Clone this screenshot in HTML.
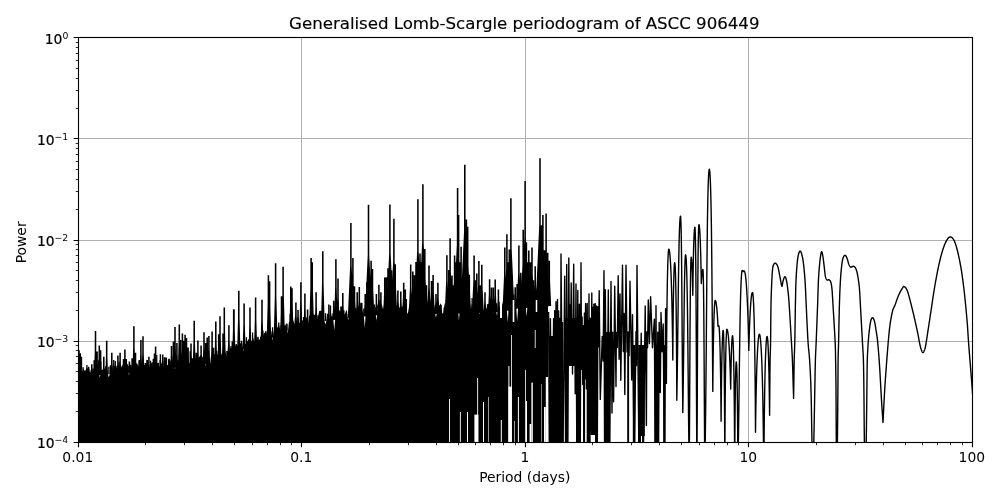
<!DOCTYPE html>
<html lang="en"><head><meta charset="utf-8"><title>Generalised Lomb-Scargle periodogram of ASCC 906449</title>
<style>html,body{margin:0;padding:0;background:#fff;overflow:hidden}svg{display:block;will-change:transform}</style></head>
<body>
<svg width="1000" height="500" viewBox="0 0 1000 500">
<rect width="1000" height="500" fill="#fff"/>
<rect x="301.0" y="37.5" width="1" height="405.0" fill="#b0b0b0"/>
<rect x="525.0" y="37.5" width="1" height="405.0" fill="#b0b0b0"/>
<rect x="748.0" y="37.5" width="1" height="405.0" fill="#b0b0b0"/>
<rect x="78.5" y="341.0" width="894.0" height="1" fill="#b0b0b0"/>
<rect x="78.5" y="240.0" width="894.0" height="1" fill="#b0b0b0"/>
<rect x="78.5" y="138.0" width="894.0" height="1" fill="#b0b0b0"/>
<clipPath id="ax"><rect x="78.5" y="37.5" width="894.0" height="405.0"/></clipPath>
<g clip-path="url(#ax)">
<path d="M78.50 442.50 L78.50 370.70 L79.82 368.76 L80.91 368.51 L81.74 371.03 L82.62 370.84 L83.51 369.31 L85.07 371.58 L86.65 367.65 L87.69 368.19 L88.73 372.75 L90.00 371.34 L91.24 373.37 L92.58 369.50 L93.85 369.51 L95.28 371.04 L96.54 369.65 L97.93 367.80 L98.82 368.59 L99.74 377.97 L101.16 369.42 L102.21 370.20 L103.47 368.43 L105.03 368.44 L105.87 369.97 L107.47 370.69 L108.58 377.31 L109.51 375.22 L110.42 366.45 L111.91 365.17 L113.15 370.70 L114.64 366.35 L115.73 370.51 L116.65 365.48 L117.64 367.57 L118.65 364.13 L119.74 367.98 L121.10 367.53 L122.44 364.20 L123.86 369.83 L124.97 366.42 L126.28 363.96 L127.25 364.59 L128.09 363.39 L128.97 376.12 L130.26 364.27 L131.34 365.70 L132.82 369.99 L134.01 363.55 L135.08 364.72 L136.01 362.96 L137.23 363.73 L138.05 366.34 L139.55 367.41 L140.64 363.58 L141.87 367.70 L142.84 367.80 L144.33 367.57 L145.72 363.32 L146.80 368.47 L147.81 366.31 L148.97 367.86 L150.53 363.65 L151.51 362.34 L152.81 367.09 L154.00 365.20 L154.86 365.14 L156.29 365.58 L157.23 365.73 L158.67 366.81 L159.79 366.49 L160.73 360.63 L162.25 365.18 L163.71 366.20 L164.80 363.03 L165.61 365.88 L166.83 365.46 L168.33 364.51 L169.33 360.64 L170.60 360.26 L171.50 364.72 L172.67 362.32 L173.80 364.54 L175.03 369.30 L175.98 357.93 L176.91 361.12 L178.16 359.97 L179.40 363.05 L180.65 359.17 L182.07 360.85 L183.48 363.54 L184.77 360.56 L186.12 360.05 L187.30 363.36 L188.80 363.21 L190.05 363.10 L190.96 357.26 L191.82 358.00 L193.16 361.67 L194.08 361.10 L194.99 362.18 L195.97 362.57 L197.16 362.71 L198.09 358.71 L199.16 356.95 L200.54 355.55 L201.69 355.36 L202.99 358.61 L204.58 360.29 L205.46 366.16 L206.48 355.37 L208.01 359.95 L208.93 360.51 L210.29 363.61 L211.43 354.18 L212.73 359.07 L214.22 353.69 L215.38 355.41 L216.92 354.67 L218.14 354.27 L219.07 352.80 L220.12 354.42 L221.16 355.62 L222.23 352.07 L223.05 356.94 L224.00 354.98 L224.88 357.25 L226.08 356.46 L227.28 354.45 L228.36 354.58 L229.67 350.51 L230.51 347.90 L231.90 347.64 L232.77 351.03 L234.11 346.02 L235.14 346.42 L236.30 344.24 L237.88 345.68 L239.45 343.47 L240.25 343.70 L241.45 342.02 L242.26 342.18 L243.37 351.28 L244.36 343.70 L245.76 343.72 L247.26 341.33 L248.85 339.10 L250.17 337.90 L251.68 341.46 L253.13 337.55 L254.33 342.00 L255.80 339.74 L257.14 340.04 L257.97 335.83 L258.85 340.44 L260.15 338.52 L261.34 333.75 L262.74 336.65 L264.07 332.93 L265.07 332.49 L266.46 332.71 L268.04 333.94 L269.22 334.68 L270.51 333.74 L271.43 330.56 L272.47 340.84 L273.49 332.46 L274.83 329.12 L276.00 329.76 L277.52 327.14 L279.07 325.09 L280.52 331.02 L281.54 325.20 L282.50 327.32 L283.72 329.31 L285.18 325.47 L286.54 322.85 L287.73 333.72 L288.89 322.17 L289.97 321.73 L290.77 324.37 L291.67 325.15 L293.19 319.94 L294.30 324.44 L295.39 320.24 L296.23 317.79 L297.26 323.44 L298.27 320.28 L299.37 323.19 L300.82 321.29 L302.37 320.02 L303.21 322.06 L304.61 320.74 L305.45 323.97 L306.63 316.76 L308.02 324.09 L309.34 315.73 L310.46 313.92 L311.43 322.60 L312.40 322.42 L313.56 313.01 L314.43 315.27 L315.43 314.08 L316.94 319.70 L318.07 316.78 L319.14 311.03 L320.71 311.50 L322.02 320.10 L323.03 312.54 L324.19 320.79 L325.69 324.42 L327.20 314.53 L328.00 313.45 L329.46 318.83 L330.46 309.75 L331.68 316.47 L333.06 315.89 L334.22 330.41 L335.21 318.89 L336.25 309.25 L337.56 315.94 L338.42 313.74 L339.53 309.99 L340.34 310.83 L341.90 314.75 L343.08 309.68 L344.65 315.12 L345.47 312.55 L346.61 309.51 L348.15 320.33 L349.28 314.28 L350.72 314.78 L351.69 317.43 L353.14 308.38 L354.55 308.97 L355.75 307.53 L356.88 313.12 L357.80 309.75 L359.38 306.57 L360.22 309.51 L361.73 313.44 L363.28 308.46 L364.83 327.96 L365.93 308.74 L366.86 304.20 L367.94 315.53 L369.52 306.41 L370.97 313.65 L371.81 309.39 L373.35 305.88 L374.87 303.78 L376.32 320.83 L377.17 314.24 L378.56 313.85 L379.58 314.47 L380.59 311.48 L381.61 302.83 L383.14 310.25 L383.96 305.37 L385.53 313.87 L386.53 307.48 L388.07 304.38 L389.46 311.92 L390.75 305.93 L391.84 311.39 L392.80 311.03 L393.65 302.41 L394.71 313.76 L396.30 305.18 L397.18 307.98 L398.33 304.81 L399.63 310.09 L401.11 309.97 L402.58 305.53 L403.68 310.86 L404.68 304.94 L406.18 308.94 L407.30 313.91 L408.29 311.70 L409.88 303.23 L411.33 312.09 L412.17 305.52 L413.12 313.68 L414.66 306.47 L415.82 305.12 L417.38 303.27 L418.67 304.61 L419.59 304.45 L420.87 309.82 L421.68 305.93 L422.62 305.75 L424.06 308.58 L424.94 306.74 L426.25 303.09 L427.61 306.92 L428.65 313.44 L429.91 306.29 L431.40 313.96 L432.36 310.74 L433.16 312.82 L434.62 306.87 L435.79 317.47 L437.10 312.92 L438.40 306.45 L439.31 305.40 L440.85 303.28 L442.30 313.53 L443.20 313.21 L444.39 302.49 L445.50 312.67 L446.96 303.69 L447.93 306.59 L449.40 303.88 L450.52 307.86 L451.42 304.58 L452.93 302.06 L454.34 301.98 L455.23 308.69 L456.53 305.12 L457.80 306.52 L458.96 320.82 L460.15 304.15 L461.57 306.78 L462.75 302.53 L463.90 302.30 L465.10 301.65 L465.97 309.94 L467.18 301.75 L468.28 312.47 L469.77 312.96 L471.22 303.28 L472.41 312.40 L473.35 310.35 L474.20 305.07 L475.12 311.59 L476.58 302.50 L478.11 303.23 L479.32 314.34 L480.25 311.90 L481.76 302.63 L482.66 306.95 L483.74 311.02 L485.01 311.09 L486.60 308.00 L488.04 303.58 L489.30 304.68 L490.46 302.44 L491.29 310.13 L492.61 312.06 L493.94 312.29 L494.86 307.56 L496.07 310.88 L497.05 315.96 L498.13 301.34 L499.11 307.03 L500.07 307.47 L500.98 311.04 L501.90 300.77 L503.40 308.71 L504.41 299.26 L505.66 303.07 L506.82 309.88 L507.81 322.59 L508.94 301.06 L510.36 298.08 L511.91 299.32 L513.20 303.44 L514.65 299.17 L515.69 297.44 L517.12 321.61 L518.51 301.88 L519.68 298.78 L520.66 296.42 L522.06 304.19 L523.43 298.95 L524.58 305.13 L525.59 303.30 L526.57 316.70 L527.56 304.39 L528.95 299.28 L530.01 298.15 L531.32 303.51 L532.90 300.71 L534.26 305.27 L535.64 301.73 L536.61 302.29 L538.14 305.51 L539.68 298.73 L540.50 295.04 L541.81 302.81 L542.66 301.47 L544.12 304.11 L544.97 304.63 L546.53 295.39 L547.42 294.45 L548.00 300.00 L548.00 442.50Z" fill="#000"/>
<path d="M78.22 350.30L78.22 362.70L77.84 377.86L80.16 377.86L79.78 362.70L79.78 350.30ZM79.42 353.30L79.42 364.28L79.08 377.70L81.32 377.70L80.98 364.28L80.98 353.30ZM80.62 356.70L80.62 366.08L80.34 377.54L82.46 377.54L82.18 366.08L82.18 356.70ZM87.82 366.80L87.82 371.19L87.70 376.55L89.50 376.55L89.38 371.19L89.38 366.80ZM91.02 364.30L91.02 369.62L90.87 376.12L92.73 376.12L92.58 369.62L92.58 364.30ZM93.42 360.30L93.42 367.27L93.22 375.79L95.18 375.79L94.98 367.27L94.98 360.30ZM94.72 331.10L94.72 351.13L94.08 375.61L96.92 375.61L96.28 351.13L96.28 331.10ZM96.32 351.40L96.32 362.20L95.99 375.40L98.21 375.40L97.88 362.20L97.88 351.40ZM98.52 345.50L98.52 358.82L98.11 375.10L100.49 375.10L100.08 358.82L100.08 345.50ZM99.82 350.30L99.82 361.39L99.48 374.95L101.72 374.95L101.38 361.39L101.38 350.30ZM103.02 356.70L103.02 364.81L102.78 374.71L104.82 374.71L104.58 364.81L104.58 356.70ZM105.92 340.70L105.92 355.91L105.44 374.50L107.96 374.50L107.48 355.91L107.48 340.70ZM109.72 365.30L109.72 369.31L109.62 374.21L111.38 374.21L111.28 369.31L111.28 365.30ZM111.02 352.70L111.02 362.34L110.73 374.12L112.87 374.12L112.58 362.34L112.58 352.70ZM114.22 365.50L114.22 369.27L114.12 373.88L115.88 373.88L115.78 369.27L115.78 365.50ZM117.12 355.60L117.12 363.73L116.88 373.66L118.92 373.66L118.68 363.73L118.68 355.60ZM119.32 352.70L119.32 362.06L119.04 373.49L121.16 373.49L120.88 362.06L120.88 352.70ZM122.72 359.10L122.72 365.46L122.54 373.24L124.46 373.24L124.28 365.46L124.28 359.10ZM124.12 349.50L124.12 360.13L123.80 373.13L126.00 373.13L125.68 360.13L125.68 349.50ZM125.42 359.10L125.42 365.37L125.24 373.04L127.16 373.04L126.98 365.37L126.98 359.10ZM128.62 361.50L128.62 366.58L128.48 372.80L130.32 372.80L130.18 366.58L130.18 361.50ZM131.32 358.30L131.32 364.73L131.14 372.59L133.06 372.59L132.88 364.73L132.88 358.30ZM133.12 326.30L133.12 347.07L132.46 372.46L135.34 372.46L134.68 347.07L134.68 326.30ZM134.72 352.70L134.72 361.54L134.46 372.34L136.54 372.34L136.28 361.54L136.28 352.70ZM136.62 365.30L136.62 368.40L136.55 372.19L138.25 372.19L138.18 368.40L138.18 365.30ZM138.52 359.90L138.52 365.37L138.37 372.05L140.23 372.05L140.08 365.37L140.08 359.90ZM140.12 339.90L140.12 354.29L139.67 371.88L142.13 371.88L141.68 354.29L141.68 339.90ZM142.22 336.20L142.22 352.13L141.72 371.60L144.28 371.60L143.78 352.13L143.78 336.20ZM144.62 363.10L144.62 366.78L144.53 371.28L146.27 371.28L146.18 366.78L146.18 363.10ZM146.22 359.90L146.22 364.93L146.08 371.07L147.92 371.07L147.78 364.93L147.78 359.90ZM148.12 356.70L148.12 363.05L147.94 370.81L149.86 370.81L149.68 363.05L149.68 356.70ZM152.62 358.80L152.62 363.94L152.48 370.21L154.32 370.21L154.18 363.94L154.18 358.80ZM153.72 353.50L153.72 360.95L153.50 370.07L155.50 370.07L155.28 360.95L155.28 353.50ZM154.82 346.60L154.82 357.09L154.50 369.92L156.70 369.92L156.38 357.09L156.38 346.60ZM156.62 363.10L156.62 366.06L156.55 369.68L158.25 369.68L158.18 366.06L158.18 363.10ZM159.52 359.90L159.52 364.13L159.41 369.29L161.19 369.29L161.08 364.13L161.08 359.90ZM161.92 354.60L161.92 361.07L161.73 368.97L163.67 368.97L163.48 361.07L163.48 354.60ZM163.82 357.20L163.82 362.38L163.68 368.72L165.52 368.72L165.38 362.38L165.38 357.20ZM165.42 357.50L165.42 362.45L165.28 368.51L167.12 368.51L166.98 362.45L166.98 357.50ZM168.32 358.80L168.32 362.99L168.21 368.12L169.99 368.12L169.88 362.99L169.88 358.80ZM170.72 346.00L170.72 355.83L170.42 367.85L172.58 367.85L172.28 355.83L172.28 346.00ZM172.62 341.50L172.62 353.27L172.26 367.66L174.54 367.66L174.18 353.27L174.18 341.50ZM174.22 327.10L174.22 345.28L173.64 367.50L176.36 367.50L175.78 345.28L175.78 327.10ZM176.12 343.10L176.12 353.99L175.79 367.31L178.01 367.31L177.68 353.99L177.68 343.10ZM178.52 324.40L178.52 343.60L177.91 367.07L180.69 367.07L180.08 343.60L180.08 324.40ZM179.82 339.90L179.82 352.07L179.44 366.94L181.76 366.94L181.38 352.07L181.38 339.90ZM181.62 333.50L181.62 348.47L181.15 366.76L183.65 366.76L183.18 348.47L183.18 333.50ZM183.02 340.70L183.02 352.36L182.66 366.62L184.94 366.62L184.58 352.36L184.58 340.70ZM184.32 334.80L184.32 349.06L183.87 366.49L186.33 366.49L185.88 349.06L185.88 334.80ZM185.72 338.00L185.72 350.76L185.32 366.35L187.68 366.35L187.28 350.76L187.28 338.00ZM187.32 347.60L187.32 355.97L187.07 366.19L189.13 366.19L188.88 355.97L188.88 347.60ZM190.22 343.60L190.22 353.63L189.92 365.90L192.08 365.90L191.78 353.63L191.78 343.60ZM191.82 358.30L191.82 361.65L191.74 365.74L193.46 365.74L193.38 361.65L193.38 358.30ZM193.42 320.70L193.42 340.90L192.78 365.58L195.62 365.58L194.98 340.90L194.98 320.70ZM195.52 352.70L195.52 358.40L195.36 365.37L197.24 365.37L197.08 358.40L197.08 352.70ZM197.12 340.40L197.12 351.56L196.78 365.21L199.02 365.21L198.68 351.56L198.68 340.40ZM200.32 345.50L200.32 354.20L200.06 364.82L202.14 364.82L201.88 354.20L201.88 345.50ZM203.22 332.20L203.22 346.67L202.77 364.36L205.23 364.36L204.78 346.67L204.78 332.20ZM204.92 343.10L204.92 352.54L204.64 364.09L206.76 364.09L206.48 352.54L206.48 343.10ZM206.42 337.50L206.42 349.36L206.05 363.85L208.35 363.85L207.98 349.36L207.98 337.50ZM208.12 335.90L208.12 348.35L207.73 363.58L210.07 363.58L209.68 348.35L209.68 335.90ZM211.32 331.60L211.32 345.76L210.88 363.06L213.32 363.06L212.88 345.76L212.88 331.60ZM213.12 357.50L213.12 359.87L213.07 362.78L214.73 362.78L214.68 359.87L214.68 357.50ZM215.02 321.50L215.02 339.94L214.44 362.47L217.16 362.47L216.58 339.94L216.58 321.50ZM217.92 334.30L217.92 346.77L217.53 362.01L219.87 362.01L219.48 346.77L219.48 334.30ZM219.22 316.20L219.22 336.72L218.57 361.80L221.43 361.80L220.78 336.72L220.78 316.20ZM222.22 333.50L222.22 346.02L221.83 361.32L224.17 361.32L223.78 346.02L223.78 333.50ZM223.52 307.60L223.52 331.68L222.75 361.11L225.85 361.11L225.08 331.68L225.08 307.60ZM226.22 351.10L226.22 354.82L226.13 359.36L227.87 359.36L227.78 354.82L227.78 351.10ZM228.12 325.20L228.12 339.87L227.66 357.81L230.14 357.81L229.68 339.87L229.68 325.20ZM230.22 351.90L230.22 353.79L230.19 356.09L231.81 356.09L231.78 353.79L231.78 351.90ZM231.52 341.50L231.52 347.59L231.35 355.03L233.25 355.03L233.08 347.59L233.08 341.50ZM232.92 309.20L232.92 329.31L232.28 353.88L235.12 353.88L234.48 329.31L234.48 309.20ZM233.22 309.40L233.22 329.31L232.59 353.64L235.41 353.64L234.78 329.31L234.78 309.40ZM238.02 290.70L238.02 317.85L237.15 351.03L240.45 351.03L239.58 317.85L239.58 290.70ZM243.32 303.50L243.32 324.06L242.66 349.20L245.54 349.20L244.88 324.06L244.88 303.50ZM249.22 307.50L249.22 325.34L248.66 347.15L251.34 347.15L250.78 325.34L250.78 307.50ZM254.82 297.60L254.82 319.03L254.14 345.22L257.06 345.22L256.38 319.03L256.38 297.60ZM261.22 299.80L261.22 319.24L260.60 343.00L263.40 343.00L262.78 319.24L262.78 299.80ZM267.62 275.20L267.62 304.27L266.68 339.80L270.12 339.80L269.18 304.27L269.18 275.20ZM268.82 281.30L268.82 307.36L267.98 339.20L271.22 339.20L270.38 307.36L270.38 281.30ZM274.82 263.20L274.82 296.05L273.75 336.20L277.45 336.20L276.38 296.05L276.38 263.20ZM280.72 296.30L280.72 312.93L280.20 333.25L282.80 333.25L282.28 312.93L282.28 296.30ZM282.32 266.70L282.32 296.29L281.36 332.45L284.84 332.45L283.88 296.29L283.88 266.70ZM290.02 286.40L290.02 305.39L289.42 328.60L292.18 328.60L291.58 305.39L291.58 286.40ZM291.22 288.30L291.22 306.17L290.65 328.00L293.35 328.00L292.78 306.17L292.78 288.30ZM295.12 302.40L295.12 313.31L294.79 326.64L297.01 326.64L296.68 313.31L296.68 302.40ZM297.22 309.90L297.22 317.26L297.00 326.25L299.00 326.25L298.78 317.26L298.78 309.90ZM300.12 282.20L300.12 301.78L299.50 325.71L302.30 325.71L301.68 301.78L301.68 282.20ZM304.12 293.60L304.12 307.71L303.68 324.96L306.12 324.96L305.68 307.71L305.68 293.60ZM306.82 309.40L306.82 316.17L306.62 324.45L308.58 324.45L308.38 316.17L308.38 309.40ZM310.32 257.90L310.32 287.55L309.36 323.79L312.84 323.79L311.88 287.55L311.88 257.90ZM311.42 262.30L311.42 289.88L310.53 323.59L313.87 323.59L312.98 289.88L312.98 262.30ZM315.32 292.30L315.32 306.05L314.89 322.86L317.31 322.86L316.88 306.05L316.88 292.30ZM319.62 310.70L319.62 315.81L319.48 322.05L321.32 322.05L321.18 315.81L321.18 310.70ZM322.02 251.20L322.02 282.88L320.99 321.60L324.61 321.60L323.58 282.88L323.58 251.20ZM328.12 304.60L328.12 311.82L327.91 320.64L329.89 320.64L329.68 311.82L329.68 304.60ZM332.92 300.80L332.92 309.46L332.66 320.04L334.74 320.04L334.48 309.46L334.48 300.80ZM335.12 259.20L335.12 286.45L334.24 319.76L337.56 319.76L336.68 286.45L336.68 259.20ZM337.22 278.40L337.22 296.90L336.63 319.50L339.37 319.50L338.78 296.90L338.78 278.40ZM340.42 306.70L340.42 312.28L340.14 319.10L342.26 319.10L341.98 312.28L341.98 306.70ZM342.02 293.10L342.02 304.71L341.41 318.90L344.19 318.90L343.58 304.71L343.58 293.10ZM350.12 223.10L350.12 265.75L347.78 317.89L354.02 317.89L351.68 265.75L351.68 223.10ZM348.62 304.30L348.62 310.50L348.31 318.07L350.49 318.07L350.18 310.50L350.18 304.30ZM349.32 284.30L349.32 299.46L348.51 317.99L351.69 317.99L350.88 299.46L350.88 284.30ZM352.12 257.90L352.12 284.78L350.66 317.64L355.14 317.64L353.68 284.78L353.68 257.90ZM366.92 272.30L366.92 292.01L365.86 316.09L369.54 316.09L368.48 292.01L368.48 272.30ZM353.72 286.30L353.72 300.31L352.97 317.44L356.03 317.44L355.28 300.31L355.28 286.30ZM356.42 292.30L356.42 303.46L355.83 317.10L358.57 317.10L357.98 303.46L357.98 292.30ZM358.52 287.00L358.52 300.45L357.80 316.88L360.80 316.88L360.08 300.45L360.08 287.00ZM360.42 302.70L360.42 309.00L360.10 316.70L362.30 316.70L361.98 309.00L361.98 302.70ZM364.42 293.90L364.42 303.99L363.89 316.32L366.51 316.32L365.98 303.99L365.98 293.90ZM366.02 282.20L366.02 297.49L365.20 316.18L368.40 316.18L367.58 297.49L367.58 282.20ZM367.72 204.70L367.72 254.79L364.97 316.02L372.03 316.02L369.28 254.79L369.28 204.70ZM370.32 260.70L370.32 285.48L368.97 315.77L373.23 315.77L371.88 285.48L371.88 260.70ZM371.72 269.10L371.72 290.04L370.59 315.64L374.41 315.64L373.28 290.04L373.28 269.10ZM375.62 293.90L375.62 303.52L375.12 315.27L377.68 315.27L377.18 303.52L377.18 293.90ZM378.12 284.80L378.12 298.41L377.39 315.04L380.41 315.04L379.68 298.41L379.68 284.80ZM380.12 292.30L380.12 302.45L379.59 314.85L382.21 314.85L381.68 302.45L381.68 292.30ZM384.02 277.50L384.02 294.14L383.13 314.49L386.47 314.49L385.58 294.14L385.58 277.50ZM385.62 277.30L385.62 293.97L384.72 314.34L388.08 314.34L387.18 293.97L387.18 277.30ZM387.22 268.30L387.22 288.95L386.10 314.19L389.90 314.19L388.78 288.95L388.78 268.30ZM389.12 204.40L389.12 253.72L386.41 314.01L393.39 314.01L390.68 253.72L390.68 204.40ZM390.72 270.30L390.72 289.97L389.66 314.00L393.34 314.00L392.28 289.97L392.28 270.30ZM393.12 218.80L393.12 261.64L390.77 314.00L397.03 314.00L394.68 261.64L394.68 218.80ZM394.42 264.30L394.42 286.67L393.21 314.00L397.19 314.00L395.98 286.67L395.98 264.30ZM397.12 290.40L397.12 301.02L396.56 314.00L399.24 314.00L398.68 301.02L398.68 290.40ZM400.02 291.50L400.02 301.62L399.49 314.00L402.11 314.00L401.58 301.62L401.58 291.50ZM402.92 282.70L402.92 296.78L402.17 314.00L405.23 314.00L404.48 296.78L404.48 282.70ZM404.52 289.40L404.52 300.47L403.94 314.00L406.67 314.00L406.08 300.47L406.08 289.40ZM409.92 264.60L409.92 286.83L408.71 314.00L412.69 314.00L411.48 286.83L411.48 264.60ZM412.02 271.50L412.02 290.62L410.99 314.00L414.61 314.00L413.58 290.62L413.58 271.50ZM413.62 275.30L413.62 292.72L412.68 314.00L416.12 314.00L415.18 292.72L415.18 275.30ZM415.22 261.90L415.22 285.35L413.95 314.00L418.05 314.00L416.78 285.35L416.78 261.90ZM417.12 199.30L417.12 250.92L414.28 314.00L421.52 314.00L418.68 250.92L418.68 199.30ZM419.22 253.60L419.22 280.78L417.74 314.00L422.26 314.00L420.78 280.78L420.78 253.60ZM420.72 262.30L420.72 285.56L419.46 314.00L423.54 314.00L422.28 285.56L422.28 262.30ZM422.12 184.20L422.12 242.61L418.90 314.00L426.89 314.00L423.68 242.61L423.68 184.20ZM424.02 249.10L424.02 278.31L422.43 314.00L427.17 314.00L425.58 278.31L425.58 249.10ZM425.72 285.30L425.72 298.22L425.03 314.00L427.97 314.00L427.28 298.22L427.28 285.30ZM428.22 265.60L428.22 287.38L427.04 314.00L430.96 314.00L429.78 287.38L429.78 265.60ZM430.72 281.10L430.72 295.91L429.93 314.00L433.07 314.00L432.28 295.91L432.28 281.10ZM432.32 275.00L432.32 292.55L431.38 314.00L434.83 314.00L433.88 292.55L433.88 275.00ZM435.22 293.90L435.22 302.94L434.75 314.00L437.25 314.00L436.78 302.94L436.78 293.90ZM437.12 282.70L437.12 296.78L436.37 314.00L439.43 314.00L438.68 296.78L438.68 282.70ZM446.12 255.20L446.12 281.56L444.69 313.77L449.11 313.77L447.68 281.56L447.68 255.20ZM448.02 269.90L448.02 289.61L446.95 313.71L450.65 313.71L449.58 289.61L449.58 269.90ZM449.32 238.20L449.32 272.16L447.46 313.66L452.74 313.66L450.88 272.16L450.88 238.20ZM451.22 275.50L451.22 292.64L450.30 313.60L453.70 313.60L452.78 292.64L452.78 275.50ZM452.52 285.30L452.52 298.02L451.84 313.56L454.76 313.56L454.08 298.02L454.08 285.30ZM453.82 255.50L453.82 281.61L452.40 313.51L456.80 313.51L455.38 281.61L455.38 255.50ZM455.42 262.30L455.42 285.32L454.17 313.46L458.23 313.46L456.98 285.32L456.98 262.30ZM456.82 187.90L456.82 244.38L453.71 313.41L461.49 313.41L458.38 244.38L458.38 187.90ZM457.82 215.10L457.82 259.33L455.39 313.38L461.81 313.38L459.38 259.33L459.38 215.10ZM459.02 262.30L459.02 285.27L457.77 313.34L461.83 313.34L460.58 285.27L460.58 262.30ZM460.32 246.70L460.32 276.67L458.69 313.30L463.51 313.30L461.88 276.67L461.88 246.70ZM462.12 274.70L462.12 292.04L461.19 313.24L464.61 313.24L463.68 292.04L463.68 274.70ZM464.02 164.70L464.02 231.51L460.34 313.17L469.26 313.17L465.58 231.51L465.58 164.70ZM465.62 219.40L465.62 261.57L463.31 313.12L469.49 313.12L467.18 261.57L467.18 219.40ZM466.92 226.70L466.92 265.57L464.79 313.08L470.61 313.08L468.48 265.57L468.48 226.70ZM468.52 274.70L468.52 291.95L467.59 313.02L471.01 313.02L470.08 291.95L470.08 274.70ZM473.32 255.50L473.32 281.31L471.92 312.86L476.28 312.86L474.88 281.31L474.88 255.50ZM474.72 280.30L474.72 294.93L473.94 312.82L477.06 312.82L476.28 294.93L476.28 280.30ZM476.02 273.40L476.02 291.12L475.07 312.77L478.53 312.77L477.58 291.12L477.58 273.40ZM478.12 261.10L478.12 284.32L476.86 312.70L480.94 312.70L479.68 284.32L479.68 261.10ZM479.52 285.30L479.52 297.61L478.87 312.66L481.73 312.66L481.08 297.61L481.08 285.30ZM481.02 264.80L481.02 286.31L479.85 312.61L483.75 312.61L482.58 286.31L482.58 264.80ZM484.22 292.30L484.22 301.39L483.75 312.50L486.25 312.50L485.78 301.39L485.78 292.30ZM488.82 279.20L488.82 294.12L488.02 312.35L491.18 312.35L490.38 294.12L490.38 279.20ZM490.72 287.50L490.72 298.65L490.13 312.28L492.87 312.28L492.28 298.65L492.28 287.50ZM492.52 287.50L492.52 298.63L491.93 312.22L494.67 312.22L494.08 298.63L494.08 287.50ZM494.42 279.50L494.42 294.20L493.63 312.16L496.77 312.16L495.98 294.20L495.98 279.50ZM497.62 289.40L497.62 299.59L497.08 312.05L499.72 312.05L499.18 299.59L499.18 289.40ZM504.02 247.40L504.02 276.04L502.46 311.04L507.14 311.04L505.58 276.04L505.58 247.40ZM506.12 234.30L506.12 268.64L504.24 310.62L509.56 310.62L507.68 268.64L507.68 234.30ZM507.22 262.30L507.22 283.94L506.05 310.40L509.95 310.40L508.78 283.94L508.78 262.30ZM508.52 249.50L508.52 276.79L507.03 310.14L511.57 310.14L510.08 276.79L510.08 249.50ZM510.12 198.20L510.12 248.43L507.36 309.82L514.44 309.82L511.68 248.43L511.68 198.20ZM514.42 287.30L514.42 297.05L513.91 308.96L516.49 308.96L515.98 297.05L515.98 287.30ZM516.32 283.90L516.32 295.01L515.73 308.58L518.47 308.58L517.88 295.01L517.88 283.90ZM518.12 245.50L518.12 273.72L516.58 308.22L521.22 308.22L519.68 273.72L519.68 245.50ZM520.02 272.70L520.02 288.56L519.17 307.94L522.43 307.94L521.58 288.56L521.58 272.70ZM522.42 229.80L522.42 264.89L520.50 307.77L525.90 307.77L523.98 264.89L523.98 229.80ZM523.42 250.30L523.42 276.13L522.02 307.70L526.38 307.70L524.98 276.13L524.98 250.30ZM524.32 181.10L524.32 238.04L521.19 307.64L529.01 307.64L525.88 238.04L525.88 181.10ZM525.62 242.30L525.62 271.66L524.02 307.54L528.78 307.54L527.18 271.66L527.18 242.30ZM526.82 262.30L526.82 282.62L525.72 307.46L529.48 307.46L528.38 282.62L528.38 262.30ZM528.02 250.60L528.02 276.15L526.63 307.37L530.97 307.37L529.58 276.15L529.58 250.60ZM529.62 262.30L529.62 282.53L528.53 307.26L532.27 307.26L531.18 282.53L531.18 262.30ZM531.22 247.40L531.22 274.28L529.76 307.14L534.24 307.14L532.78 274.28L532.78 247.40ZM532.62 280.30L532.62 292.33L531.98 307.04L534.82 307.04L534.18 292.33L534.18 280.30ZM534.42 266.30L534.42 284.58L533.43 306.91L536.97 306.91L535.98 284.58L535.98 266.30ZM538.22 250.30L538.22 275.65L536.84 306.64L541.16 306.64L539.78 275.65L539.78 250.30ZM539.22 158.20L539.22 224.97L535.54 306.57L544.46 306.57L540.78 224.97L540.78 158.20ZM540.62 225.30L540.62 261.83L538.62 306.47L544.18 306.47L542.18 261.83L542.18 225.30ZM542.12 215.10L542.12 256.17L539.87 306.36L545.93 306.36L543.68 256.17L543.68 215.10ZM543.72 250.30L543.72 275.48L542.35 306.25L546.65 306.25L545.28 275.48L545.28 250.30ZM545.32 213.50L545.32 255.19L543.03 306.14L549.17 306.14L546.88 255.19L546.88 213.50ZM546.92 252.70L546.92 276.69L545.62 306.02L549.78 306.02L548.48 276.69L548.48 252.70ZM548.52 260.70L548.52 281.08L547.42 306.00L551.18 306.00L550.08 281.08L550.08 260.70Z" fill="#000"/>
<path d="M80.00 377.7V367.70M83.15 377.3V367.30M85.22 377.0V370.59M86.92 376.8V365.12M88.83 376.5V368.99M91.18 376.2V370.12M93.19 375.9V368.60M96.12 375.5V367.69M98.26 375.2V360.24M100.77 374.9V361.32M103.51 374.7V368.61M105.83 374.6V366.27M108.88 374.3V366.63M111.79 374.1V365.03M113.72 374.0V360.04M115.40 373.8V360.99M117.25 373.7V367.70M119.15 373.6V361.82M122.61 373.3V367.29M125.09 373.1V364.41M128.18 372.9V366.07M130.67 372.7V364.99M133.83 372.5V365.25M137.22 372.2V364.87M139.15 372.1V361.25M141.65 371.8V365.31M144.42 371.4V365.07M147.50 371.0V360.22M150.57 370.6V360.64M152.78 370.3V362.24M155.07 370.0V355.15M156.74 369.8V354.99M158.29 369.6V362.64M160.32 369.3V354.29M162.82 369.0V361.05M166.09 368.5V361.46M168.51 368.2V359.17M171.52 367.8V356.25M174.31 367.6V359.85M176.47 367.4V360.68M179.65 367.0V356.69M182.64 366.7V359.99M185.01 366.5V354.56M187.67 366.2V359.69M190.10 366.0V351.33M192.07 365.8V358.94M194.18 365.6V354.72M197.36 365.3V358.59M199.17 365.1V357.94M201.33 364.8V355.83M203.15 364.5V356.91M205.03 364.2V349.20M207.99 363.7V357.29M211.41 363.2V356.75M213.68 362.8V347.81M216.77 362.3V351.03M219.14 361.9V355.06M221.91 361.5V355.04M223.83 361.2V353.22M225.40 360.7V352.64M228.48 358.2V347.43M230.98 356.1V346.11M233.40 354.1V347.51M236.11 352.0V343.89M239.09 350.9V335.93M241.45 350.1V340.70M244.45 349.1V340.89M246.41 348.4V337.27M249.67 347.3V335.32M252.57 346.3V332.61M255.43 345.3V335.17M257.84 344.4V336.94M260.59 343.5V337.07M262.93 342.5V330.43M265.86 341.1V331.10M267.86 340.1V331.87M270.27 338.9V328.98M272.59 337.7V327.21M275.95 336.0V329.22M278.76 334.6V322.60M281.03 333.5V324.79M284.48 331.8V325.60M287.07 330.5V323.76M290.13 328.9V313.93M292.67 327.7V321.24M295.32 326.8V317.64M298.26 326.2V317.33M301.04 325.7V312.62M303.58 325.2V317.09M306.97 324.6V317.62M309.84 324.0V316.04M312.87 323.5V316.94M316.34 322.8V315.05M317.95 322.5V315.23M320.25 322.1V316.02M322.59 321.6V313.46M325.48 321.1V313.36M327.51 320.8V313.79M330.50 320.4V305.44M333.05 320.1V313.13M336.15 319.7V311.74M338.08 319.5V312.94M341.13 319.1V306.47M343.90 318.8V310.23M346.52 318.4V311.41M349.95 318.0V310.26M352.73 317.7V304.83M355.86 317.3V308.74M357.95 317.0V307.83M359.70 316.8V303.66M361.91 316.6V303.03M363.95 316.4V308.56M365.95 316.3V308.03M367.82 316.1V310.07M370.77 315.8V308.48M372.76 315.6V308.18M375.22 315.4V307.15M377.99 315.1V304.82M380.22 314.9V299.92M383.43 314.6V308.38M386.58 314.3V299.32M389.65 314.0V307.43M392.81 314.0V303.99M394.34 314.0V307.95M397.75 314.0V303.73M399.75 314.0V307.57M401.53 314.0V306.94M404.58 314.0V306.30M406.39 314.0V299.00M409.47 314.0V307.26M412.75 314.0V304.25M415.82 314.0V303.58M419.10 314.0V301.79M422.28 314.0V307.12M425.17 314.0V304.97M428.15 314.0V305.69M431.42 314.0V304.76M433.45 314.0V306.93M435.22 314.0V305.28M436.84 314.0V305.48M438.63 314.0V305.30M441.13 314.0V304.86M444.35 313.9V307.83M447.53 313.7V305.22M450.16 313.7V303.28M453.34 313.6V305.68M455.68 313.5V298.48M457.33 313.4V303.37M460.10 313.3V307.21M462.82 313.2V302.65M466.18 313.1V305.52M469.65 313.0V304.15M472.12 312.9V297.93M473.68 312.9V301.81M476.43 312.8V305.13M479.66 312.7V304.85M482.11 312.6V303.61M485.15 312.5V305.55M487.52 312.4V304.22M490.13 312.3V299.32M492.21 312.3V299.22M494.52 312.2V303.38M496.56 312.1V303.29M500.01 312.0V301.75M503.10 311.4V303.77M505.23 311.0V303.53M507.90 310.4V300.39M510.97 309.8V303.64M513.92 309.2V294.54M516.51 308.7V302.49M518.61 308.3V302.25M520.49 308.0V292.97M523.21 307.8V297.48M526.28 307.6V292.55M529.01 307.4V297.52M531.76 307.2V296.39M534.45 307.0V296.40M536.38 306.8V296.43M538.80 306.7V294.90M540.50 306.5V299.74M542.07 306.4V294.47M545.40 306.2V295.92M547.64 306.0V293.11" stroke="#000" stroke-width="1.3" fill="none"/>
<rect x="449.10" y="399.0" width="0.90" height="43.5" fill="#fff"/><rect x="459.90" y="412.0" width="0.90" height="30.5" fill="#fff"/><rect x="467.00" y="412.0" width="1.00" height="30.5" fill="#fff"/><rect x="474.40" y="414.6" width="4.00" height="27.9" fill="#fff"/><rect x="477.20" y="378.0" width="0.90" height="64.5" fill="#fff"/><rect x="483.00" y="402.0" width="1.00" height="40.5" fill="#fff"/><rect x="488.20" y="397.0" width="0.60" height="45.5" fill="#fff"/><rect x="500.80" y="420.0" width="1.00" height="22.5" fill="#fff"/><rect x="508.40" y="366.0" width="1.00" height="76.5" fill="#fff"/><rect x="508.40" y="386.6" width="3.40" height="55.9" fill="#fff"/><rect x="510.20" y="425.0" width="1.60" height="17.5" fill="#fff"/><rect x="511.20" y="335.0" width="0.80" height="107.5" fill="#fff"/><rect x="514.10" y="421.0" width="0.60" height="21.5" fill="#fff"/><rect x="517.90" y="397.0" width="1.00" height="45.5" fill="#fff"/><rect x="525.20" y="369.8" width="0.80" height="72.7" fill="#fff"/><rect x="526.00" y="401.0" width="1.00" height="41.5" fill="#fff"/><rect x="529.60" y="424.0" width="1.80" height="18.5" fill="#fff"/><rect x="531.40" y="382.6" width="1.40" height="59.9" fill="#fff"/><rect x="540.90" y="384.2" width="0.80" height="58.3" fill="#fff"/><rect x="544.00" y="407.0" width="1.80" height="35.5" fill="#fff"/><rect x="545.80" y="377.0" width="2.60" height="65.5" fill="#fff"/><rect x="548.20" y="314.0" width="1.20" height="128.5" fill="#fff"/><rect x="554.40" y="410.0" width="1.00" height="32.5" fill="#fff"/><rect x="555.40" y="393.0" width="0.80" height="49.5" fill="#fff"/><rect x="534.80" y="330" width="0.8" height="18" fill="#fff"/><rect x="512.70" y="300" width="1.6" height="22" fill="#fff"/><rect x="535.75" y="300" width="1.5" height="12" fill="#fff"/><rect x="500.00" y="296" width="2" height="22" fill="#fff"/>
<rect x="540.00" y="322" width="1.30" height="124.0" fill="#000"/>
<rect x="542.40" y="322" width="1.20" height="124.0" fill="#000"/>
<rect x="548.90" y="336" width="5.50" height="110.0" fill="#000"/>
<rect x="556.00" y="322" width="7.20" height="124.0" fill="#000"/>
<rect x="565.30" y="322" width="2.70" height="124.0" fill="#000"/>
<rect x="576.00" y="322" width="4.80" height="124.0" fill="#000"/>
<rect x="583.20" y="325" width="1.90" height="121.0" fill="#000"/>
<rect x="586.70" y="325" width="3.70" height="121.0" fill="#000"/>
<rect x="590.40" y="330" width="4.80" height="105.0" fill="#000"/>
<rect x="595.20" y="325" width="2.80" height="121.0" fill="#000"/>
<rect x="604.00" y="332" width="6.00" height="114.0" fill="#000"/>
<rect x="627.20" y="345" width="1.90" height="101.0" fill="#000"/>
<rect x="632.80" y="345" width="2.40" height="101.0" fill="#000"/>
<rect x="638.20" y="345" width="2.80" height="101.0" fill="#000"/>
<rect x="641.00" y="345" width="3.80" height="91.0" fill="#000"/>
<rect x="654.60" y="345" width="4.40" height="101.0" fill="#000"/>
<rect x="663.30" y="345" width="2.20" height="101.0" fill="#000"/>
<rect x="564.00" y="318" width="15.00" height="48.0" fill="#000"/>
<rect x="584.50" y="320" width="13.50" height="46.0" fill="#000"/>
<path d="M548.60 312.00 L549.50 470.00 L550.40 318.60 L552.00 470.00 L553.60 318.60 L554.15 470.00 L554.70 310.64 L555.35 470.00 L556.00 301.80 L556.75 470.00 L557.50 299.50 L558.07 470.00 L558.64 311.01 L559.22 470.00 L559.81 318.12 L560.40 470.00 L561.00 254.00 L562.85 470.00 L564.70 276.20 L565.70 470.00 L566.70 264.50 L567.75 470.00 L568.80 258.00 L569.41 349.43 L570.03 304.87 L570.61 344.93 L571.20 283.00 L571.75 364.85 L572.30 321.83 L572.50 374.00 L573.70 264.20 L574.29 358.60 L574.88 324.21 L575.20 393.80 L576.00 284.00 L576.90 470.00 L577.80 290.40 L578.59 470.00 L579.38 304.31 L580.19 470.00 L581.00 262.80 L581.55 369.31 L582.10 317.02 L582.79 384.52 L583.48 325.58 L583.96 470.00 L584.44 313.07 L585.02 378.75 L585.60 303.40 L586.40 388.87 L587.20 303.50 L588.10 470.00 L589.00 294.00 L589.62 470.00 L590.24 318.18 L591.02 430.39 L591.80 293.00 L592.31 422.08 L592.82 307.34 L593.35 416.48 L593.87 304.11 L594.54 420.15 L595.20 303.40 L595.85 470.00 L596.50 306.00 L597.21 470.00 L597.92 306.68 L598.56 346.72 L599.20 290.80 L600.30 399.40 L602.24 336.35 L603.12 361.09 L604.00 270.70 L604.65 470.00 L605.30 289.80 L606.80 470.00 L608.30 290.00 L609.65 470.00 L611.00 281.50 L612.00 413.00 L612.66 332.14 L613.60 401.80 L614.70 286.20 L616.00 386.60 L616.35 332.54 L617.27 347.47 L618.20 275.80 L619.10 359.19 L620.00 294.00 L620.80 380.20 L622.50 265.20 L623.31 351.59 L624.12 313.40 L624.80 394.60 L626.00 265.20 L627.05 352.00 L628.11 331.98 L629.05 355.71 L630.00 281.20 L631.70 380.00 L632.50 314.60 L634.25 470.00 L636.00 331.40 L636.50 365.59 L637.00 265.50 L639.10 470.00 L641.20 333.30 L643.20 470.00 L645.20 306.00 L646.40 425.50 L646.80 331.86 L647.55 347.77 L648.30 300.00 L649.45 343.49 L650.60 296.80 L652.49 347.82 L654.37 319.11 L655.19 470.00 L656.00 305.60 L656.89 470.00 L657.79 332.08 L658.49 470.00 L659.20 322.40 L660.30 392.50 L661.00 312.41 L662.10 351.70 L663.20 324.00 L664.40 470.00 L665.60 308.80 L666.40 383.40 L666.49 366.22 L666.57 352.03 L666.66 340.00 L666.74 329.60 L666.83 320.49 L666.91 312.42 L667.00 305.22 L667.09 298.75 L667.17 292.92 L667.26 287.65 L667.34 282.87 L667.43 278.53 L667.51 274.59 L667.60 271.01 L667.69 267.78 L667.77 264.85 L667.86 262.22 L667.94 259.86 L668.03 257.77 L668.11 255.92 L668.20 254.32 L668.29 252.94 L668.37 251.79 L668.46 250.85 L668.54 250.12 L668.63 249.61 L668.71 249.30 L668.80 249.20 L668.94 249.29 L669.09 249.57 L669.23 250.03 L669.37 250.68 L669.51 251.53 L669.66 252.57 L669.80 253.80 L669.94 255.24 L670.09 256.90 L670.23 258.77 L670.37 260.88 L670.51 263.22 L670.66 265.82 L670.80 268.69 L670.94 271.84 L671.09 275.31 L671.23 279.11 L671.37 283.28 L671.51 287.84 L671.66 292.86 L671.80 298.37 L671.94 304.45 L672.09 311.18 L672.23 318.68 L672.37 327.07 L672.51 336.56 L672.66 347.41 L672.80 360.00 L672.87 349.67 L672.94 340.59 L673.00 332.51 L673.07 325.27 L673.14 318.74 L673.21 312.82 L673.27 307.44 L673.34 302.52 L673.41 298.03 L673.48 293.92 L673.55 290.16 L673.61 286.72 L673.68 283.57 L673.75 280.69 L673.82 278.07 L673.89 275.70 L673.95 273.55 L674.02 271.62 L674.09 269.90 L674.16 268.37 L674.23 267.05 L674.29 265.91 L674.36 264.95 L674.43 264.17 L674.50 263.57 L674.56 263.14 L674.63 262.89 L674.70 262.80 L674.78 262.90 L674.85 263.22 L674.93 263.74 L675.00 264.47 L675.08 265.42 L675.15 266.58 L675.23 267.98 L675.30 269.60 L675.38 271.47 L675.45 273.59 L675.52 275.98 L675.60 278.65 L675.67 281.61 L675.75 284.89 L675.83 288.52 L675.90 292.52 L675.98 296.93 L676.05 301.78 L676.12 307.15 L676.20 313.08 L676.27 319.67 L676.35 327.01 L676.42 335.25 L676.50 344.58 L676.57 355.26 L676.65 367.65 L676.72 382.32 L676.80 400.20 L677.03 387.29 L677.23 374.85 L677.40 362.88 L677.56 351.38 L677.70 340.35 L677.83 329.79 L677.96 319.70 L678.07 310.08 L678.18 300.92 L678.29 292.24 L678.40 284.03 L678.50 276.28 L678.61 269.01 L678.72 262.20 L678.83 255.86 L678.94 250.00 L679.06 244.60 L679.18 239.67 L679.30 235.21 L679.43 231.22 L679.56 227.70 L679.69 224.65 L679.82 222.07 L679.95 219.96 L680.09 218.31 L680.22 217.14 L680.36 216.43 L680.50 216.20 L680.59 216.45 L680.68 217.20 L680.76 218.45 L680.85 220.21 L680.94 222.46 L681.02 225.21 L681.11 228.47 L681.19 232.22 L681.27 236.48 L681.34 241.24 L681.42 246.50 L681.49 252.26 L681.57 258.51 L681.64 265.27 L681.70 272.54 L681.77 280.30 L681.84 288.56 L681.90 297.32 L681.97 306.59 L682.04 316.35 L682.11 326.62 L682.18 337.39 L682.26 348.65 L682.34 360.42 L682.44 372.69 L682.54 385.46 L682.66 398.73 L682.80 412.50 L682.99 401.44 L683.15 390.78 L683.30 380.52 L683.43 370.66 L683.55 361.21 L683.65 352.16 L683.75 343.51 L683.84 335.26 L683.93 327.41 L684.01 319.97 L684.09 312.93 L684.17 306.29 L684.25 300.06 L684.33 294.23 L684.42 288.79 L684.50 283.77 L684.58 279.14 L684.67 274.91 L684.76 271.09 L684.85 267.67 L684.94 264.66 L685.03 262.04 L685.12 259.83 L685.22 258.02 L685.31 256.61 L685.41 255.60 L685.50 255.00 L685.60 254.80 L685.74 255.07 L685.89 255.90 L686.03 257.27 L686.18 259.19 L686.32 261.66 L686.45 264.68 L686.59 268.25 L686.72 272.37 L686.85 277.03 L686.98 282.25 L687.10 288.01 L687.22 294.33 L687.33 301.19 L687.44 308.60 L687.55 316.56 L687.66 325.07 L687.76 334.13 L687.86 343.73 L687.96 353.89 L688.06 364.60 L688.17 375.85 L688.28 387.65 L688.40 400.01 L688.52 412.91 L688.66 426.36 L688.82 440.36 L689.00 454.90 L689.20 470.00 L689.31 455.07 L689.41 440.69 L689.50 426.84 L689.58 413.54 L689.65 400.79 L689.71 388.57 L689.78 376.90 L689.84 365.77 L689.89 355.19 L689.95 345.14 L690.00 335.64 L690.06 326.69 L690.12 318.27 L690.18 310.40 L690.24 303.07 L690.31 296.29 L690.37 290.04 L690.44 284.34 L690.51 279.19 L690.58 274.57 L690.65 270.50 L690.73 266.97 L690.80 263.99 L690.88 261.54 L690.96 259.64 L691.04 258.29 L691.12 257.47 L691.20 257.20 L691.26 257.24 L691.31 257.37 L691.37 257.58 L691.43 257.87 L691.49 258.25 L691.54 258.72 L691.60 259.27 L691.66 259.91 L691.71 260.64 L691.77 261.46 L691.83 262.37 L691.89 263.38 L691.94 264.48 L692.00 265.68 L692.06 266.98 L692.11 268.39 L692.17 269.91 L692.23 271.54 L692.29 273.28 L692.34 275.15 L692.40 277.14 L692.46 279.26 L692.51 281.52 L692.57 283.93 L692.63 286.49 L692.69 289.22 L692.74 292.12 L692.80 295.20 L692.88 288.91 L692.95 283.16 L693.02 277.90 L693.10 273.05 L693.17 268.59 L693.25 264.47 L693.32 260.66 L693.40 257.14 L693.47 253.89 L693.55 250.87 L693.62 248.09 L693.70 245.52 L693.77 243.16 L693.85 240.99 L693.92 239.00 L694.00 237.18 L694.07 235.54 L694.15 234.05 L694.23 232.72 L694.30 231.54 L694.38 230.51 L694.45 229.62 L694.52 228.88 L694.60 228.27 L694.67 227.80 L694.75 227.47 L694.82 227.27 L694.90 227.20 L694.99 227.51 L695.07 228.44 L695.16 229.99 L695.24 232.16 L695.32 234.94 L695.40 238.35 L695.48 242.38 L695.56 247.02 L695.63 252.29 L695.71 258.17 L695.78 264.67 L695.85 271.80 L695.91 279.54 L695.97 287.90 L696.03 296.88 L696.09 306.48 L696.15 316.70 L696.20 327.54 L696.26 339.00 L696.31 351.08 L696.37 363.77 L696.42 377.09 L696.48 391.03 L696.55 405.58 L696.62 420.76 L696.70 436.55 L696.80 452.97 L696.90 470.00 L697.00 452.78 L697.10 436.19 L697.18 420.23 L697.25 404.89 L697.31 390.18 L697.37 376.10 L697.43 362.64 L697.49 349.80 L697.54 337.60 L697.59 326.02 L697.65 315.06 L697.70 304.73 L697.76 295.03 L697.82 285.95 L697.89 277.50 L697.95 269.67 L698.02 262.47 L698.09 255.90 L698.16 249.95 L698.24 244.63 L698.32 239.94 L698.39 235.87 L698.48 232.43 L698.56 229.61 L698.64 227.42 L698.73 225.85 L698.81 224.91 L698.90 224.60 L698.99 224.66 L699.07 224.84 L699.16 225.14 L699.24 225.56 L699.33 226.11 L699.41 226.78 L699.50 227.57 L699.59 228.49 L699.67 229.55 L699.76 230.74 L699.84 232.06 L699.93 233.53 L700.01 235.15 L700.10 236.92 L700.19 238.84 L700.27 240.94 L700.36 243.21 L700.44 245.66 L700.53 248.30 L700.61 251.15 L700.70 254.22 L700.79 257.53 L700.87 261.09 L700.96 264.92 L701.04 269.06 L701.13 273.53 L701.21 278.36 L701.30 283.60 L701.36 282.56 L701.41 281.56 L701.47 280.61 L701.53 279.71 L701.59 278.84 L701.64 278.02 L701.70 277.24 L701.76 276.50 L701.81 275.80 L701.87 275.14 L701.93 274.52 L701.99 273.94 L702.04 273.39 L702.10 272.88 L702.16 272.41 L702.21 271.98 L702.27 271.58 L702.33 271.22 L702.39 270.89 L702.44 270.60 L702.50 270.34 L702.56 270.11 L702.61 269.93 L702.67 269.77 L702.73 269.65 L702.79 269.57 L702.84 269.52 L702.90 269.50 L702.97 269.76 L703.05 270.52 L703.12 271.80 L703.19 273.59 L703.26 275.89 L703.34 278.71 L703.40 282.03 L703.47 285.87 L703.54 290.21 L703.60 295.07 L703.67 300.44 L703.73 306.33 L703.79 312.72 L703.85 319.62 L703.90 327.04 L703.96 334.97 L704.01 343.41 L704.07 352.36 L704.12 361.82 L704.18 371.80 L704.23 382.28 L704.29 393.28 L704.36 404.79 L704.43 416.81 L704.51 429.34 L704.59 442.38 L704.69 455.93 L704.80 470.00 L705.13 448.90 L705.42 428.56 L705.66 409.00 L705.86 390.20 L706.04 372.16 L706.20 354.90 L706.34 338.40 L706.46 322.67 L706.58 307.71 L706.70 293.51 L706.81 280.08 L706.92 267.42 L707.03 255.53 L707.15 244.40 L707.27 234.04 L707.40 224.45 L707.53 215.62 L707.67 207.57 L707.81 200.28 L707.96 193.76 L708.11 188.00 L708.27 183.01 L708.44 178.79 L708.61 175.34 L708.78 172.65 L708.95 170.73 L709.12 169.58 L709.30 169.20 L709.46 169.48 L709.63 170.33 L709.79 171.75 L709.95 173.73 L710.11 176.29 L710.26 179.40 L710.42 183.09 L710.57 187.34 L710.71 192.16 L710.85 197.54 L710.99 203.49 L711.12 210.01 L711.25 217.10 L711.37 224.75 L711.48 232.97 L711.59 241.76 L711.70 251.11 L711.80 261.03 L711.90 271.51 L711.99 282.57 L712.09 294.19 L712.18 306.37 L712.27 319.13 L712.36 332.45 L712.46 346.34 L712.57 360.79 L712.68 375.81 L712.80 391.40 L712.89 382.03 L712.97 373.72 L713.06 366.27 L713.14 359.56 L713.23 353.48 L713.31 347.95 L713.40 342.89 L713.49 338.27 L713.57 334.03 L713.66 330.15 L713.74 326.58 L713.83 323.32 L713.91 320.32 L714.00 317.59 L714.09 315.09 L714.17 312.83 L714.26 310.78 L714.34 308.93 L714.43 307.29 L714.51 305.83 L714.60 304.56 L714.69 303.47 L714.77 302.56 L714.86 301.81 L714.94 301.24 L715.03 300.83 L715.11 300.58 L715.20 300.50 L715.30 300.53 L715.40 300.62 L715.50 300.77 L715.60 300.98 L715.70 301.24 L715.80 301.57 L715.90 301.96 L716.00 302.42 L716.10 302.93 L716.20 303.51 L716.30 304.15 L716.40 304.85 L716.50 305.62 L716.60 306.46 L716.70 307.36 L716.80 308.34 L716.90 309.38 L717.00 310.50 L717.10 311.69 L717.20 312.96 L717.30 314.31 L717.40 315.74 L717.50 317.25 L717.60 318.86 L717.70 320.55 L717.80 322.33 L717.90 324.22 L718.00 326.20 L718.02 326.16 L718.05 326.12 L718.08 326.08 L718.10 326.04 L718.12 326.00 L718.15 325.97 L718.17 325.94 L718.20 325.91 L718.23 325.88 L718.25 325.85 L718.27 325.82 L718.30 325.80 L718.33 325.77 L718.35 325.75 L718.38 325.73 L718.40 325.71 L718.43 325.69 L718.45 325.68 L718.48 325.66 L718.50 325.65 L718.53 325.64 L718.55 325.63 L718.58 325.62 L718.60 325.61 L718.62 325.61 L718.65 325.60 L718.68 325.60 L718.70 325.60 L718.79 325.68 L718.87 325.94 L718.96 326.36 L719.04 326.96 L719.13 327.73 L719.21 328.68 L719.30 329.80 L719.39 331.12 L719.47 332.62 L719.56 334.33 L719.64 336.24 L719.73 338.36 L719.81 340.72 L719.90 343.31 L719.99 346.15 L720.07 349.26 L720.16 352.66 L720.24 356.38 L720.33 360.44 L720.41 364.87 L720.50 369.71 L720.59 375.02 L720.67 380.84 L720.76 387.27 L720.84 394.38 L720.93 402.31 L721.01 411.21 L721.10 421.30 L721.18 411.93 L721.25 403.62 L721.33 396.17 L721.40 389.46 L721.48 383.38 L721.55 377.85 L721.62 372.79 L721.70 368.17 L721.77 363.93 L721.85 360.05 L721.93 356.48 L722.00 353.22 L722.08 350.22 L722.15 347.49 L722.23 344.99 L722.30 342.73 L722.38 340.68 L722.45 338.83 L722.53 337.19 L722.60 335.73 L722.68 334.46 L722.75 333.37 L722.83 332.46 L722.90 331.71 L722.98 331.14 L723.05 330.73 L723.12 330.48 L723.20 330.40 L723.26 330.50 L723.31 330.82 L723.37 331.34 L723.43 332.08 L723.49 333.04 L723.54 334.21 L723.60 335.62 L723.66 337.26 L723.71 339.14 L723.77 341.28 L723.83 343.69 L723.89 346.38 L723.94 349.37 L724.00 352.68 L724.06 356.34 L724.11 360.38 L724.17 364.83 L724.23 369.74 L724.29 375.16 L724.34 381.17 L724.40 387.84 L724.46 395.28 L724.51 403.64 L724.57 413.12 L724.63 423.98 L724.69 436.61 L724.74 451.62 L724.80 470.00 L724.88 451.37 L724.95 436.19 L725.02 423.43 L725.10 412.48 L725.17 402.93 L725.25 394.51 L725.32 387.02 L725.40 380.31 L725.47 374.27 L725.55 368.82 L725.62 363.88 L725.70 359.41 L725.77 355.35 L725.85 351.68 L725.92 348.35 L726.00 345.34 L726.07 342.64 L726.15 340.23 L726.23 338.08 L726.30 336.19 L726.38 334.54 L726.45 333.13 L726.52 331.95 L726.60 330.99 L726.67 330.25 L726.75 329.72 L726.82 329.40 L726.90 329.30 L727.04 329.36 L727.17 329.54 L727.31 329.85 L727.44 330.27 L727.58 330.82 L727.71 331.50 L727.85 332.30 L727.99 333.23 L728.12 334.30 L728.26 335.50 L728.39 336.83 L728.53 338.32 L728.66 339.95 L728.80 341.74 L728.94 343.68 L729.07 345.80 L729.21 348.09 L729.34 350.57 L729.48 353.24 L729.61 356.12 L729.75 359.23 L729.89 362.57 L730.02 366.17 L730.16 370.06 L730.29 374.25 L730.43 378.78 L730.56 383.68 L730.70 389.00 L730.76 384.38 L730.83 380.10 L730.89 376.12 L730.96 372.43 L731.02 368.98 L731.09 365.78 L731.15 362.79 L731.21 360.01 L731.28 357.42 L731.34 355.02 L731.41 352.78 L731.47 350.71 L731.54 348.80 L731.60 347.03 L731.66 345.41 L731.73 343.93 L731.79 342.58 L731.86 341.36 L731.92 340.26 L731.99 339.29 L732.05 338.44 L732.11 337.71 L732.18 337.09 L732.24 336.59 L732.31 336.20 L732.37 335.92 L732.44 335.76 L732.50 335.70 L732.58 335.80 L732.66 336.11 L732.74 336.63 L732.81 337.35 L732.89 338.29 L732.97 339.44 L733.05 340.82 L733.13 342.43 L733.21 344.27 L733.29 346.37 L733.36 348.72 L733.44 351.36 L733.52 354.28 L733.60 357.52 L733.68 361.10 L733.76 365.04 L733.84 369.38 L733.91 374.17 L733.99 379.44 L734.07 385.28 L734.15 391.75 L734.23 398.95 L734.31 407.03 L734.39 416.15 L734.46 426.55 L734.54 438.60 L734.62 452.80 L734.70 470.00 L734.76 457.90 L734.81 447.42 L734.87 438.23 L734.93 430.07 L734.99 422.78 L735.04 416.21 L735.10 410.27 L735.16 404.88 L735.21 399.97 L735.27 395.49 L735.33 391.41 L735.39 387.68 L735.44 384.28 L735.50 381.17 L735.56 378.35 L735.61 375.80 L735.67 373.49 L735.73 371.42 L735.79 369.58 L735.84 367.95 L735.90 366.53 L735.96 365.31 L736.01 364.29 L736.07 363.46 L736.13 362.82 L736.19 362.36 L736.24 362.09 L736.30 362.00 L736.36 362.09 L736.41 362.36 L736.47 362.82 L736.53 363.46 L736.59 364.29 L736.64 365.31 L736.70 366.53 L736.76 367.95 L736.81 369.58 L736.87 371.42 L736.93 373.49 L736.99 375.80 L737.04 378.35 L737.10 381.17 L737.16 384.28 L737.21 387.68 L737.27 391.41 L737.33 395.49 L737.39 399.97 L737.44 404.88 L737.50 410.27 L737.56 416.21 L737.61 422.78 L737.67 430.07 L737.73 438.23 L737.79 447.42 L737.84 457.90 L737.90 470.00 L738.15 456.00 L738.37 442.52 L738.57 429.54 L738.74 417.07 L738.90 405.11 L739.05 393.66 L739.19 382.72 L739.31 372.29 L739.44 362.36 L739.56 352.95 L739.69 344.04 L739.81 335.64 L739.93 327.75 L740.06 320.38 L740.19 313.50 L740.33 307.14 L740.47 301.29 L740.61 295.95 L740.76 291.11 L740.91 286.79 L741.06 282.97 L741.22 279.66 L741.38 276.86 L741.54 274.57 L741.70 272.79 L741.87 271.52 L742.03 270.75 L742.20 270.50 L742.24 270.50 L742.28 270.51 L742.32 270.51 L742.36 270.52 L742.40 270.53 L742.44 270.55 L742.48 270.57 L742.51 270.59 L742.55 270.61 L742.59 270.64 L742.63 270.67 L742.67 270.70 L742.71 270.74 L742.75 270.77 L742.79 270.81 L742.83 270.86 L742.87 270.90 L742.91 270.95 L742.95 271.01 L742.99 271.06 L743.02 271.12 L743.06 271.18 L743.10 271.24 L743.14 271.31 L743.18 271.38 L743.22 271.45 L743.26 271.52 L743.30 271.60 L743.33 271.56 L743.36 271.52 L743.40 271.48 L743.43 271.44 L743.46 271.40 L743.49 271.37 L743.52 271.34 L743.56 271.31 L743.59 271.28 L743.62 271.25 L743.65 271.22 L743.69 271.20 L743.72 271.17 L743.75 271.15 L743.78 271.13 L743.81 271.11 L743.85 271.09 L743.88 271.08 L743.91 271.06 L743.94 271.05 L743.98 271.04 L744.01 271.03 L744.04 271.02 L744.07 271.01 L744.10 271.01 L744.14 271.00 L744.17 271.00 L744.20 271.00 L744.36 271.07 L744.53 271.30 L744.69 271.67 L744.86 272.20 L745.02 272.88 L745.19 273.71 L745.35 274.71 L745.51 275.86 L745.68 277.18 L745.84 278.68 L746.01 280.35 L746.17 282.21 L746.34 284.26 L746.50 286.51 L746.66 288.97 L746.83 291.66 L746.99 294.59 L747.16 297.77 L747.32 301.23 L747.49 304.98 L747.65 309.06 L747.81 313.49 L747.98 318.32 L748.14 323.59 L748.31 329.35 L748.47 335.68 L748.64 342.66 L748.80 350.40 L748.93 345.28 L749.06 340.56 L749.20 336.18 L749.33 332.13 L749.46 328.37 L749.59 324.88 L749.72 321.64 L749.86 318.62 L749.99 315.82 L750.12 313.23 L750.25 310.82 L750.39 308.59 L750.52 306.53 L750.65 304.63 L750.78 302.89 L750.91 301.30 L751.05 299.85 L751.18 298.55 L751.31 297.38 L751.44 296.34 L751.58 295.43 L751.71 294.64 L751.84 293.99 L751.97 293.45 L752.10 293.03 L752.24 292.74 L752.37 292.56 L752.50 292.50 L752.61 292.60 L752.71 292.92 L752.82 293.44 L752.93 294.18 L753.04 295.14 L753.14 296.32 L753.25 297.72 L753.36 299.36 L753.46 301.25 L753.57 303.39 L753.68 305.80 L753.79 308.49 L753.89 311.48 L754.00 314.80 L754.11 318.46 L754.21 322.50 L754.32 326.96 L754.43 331.87 L754.54 337.30 L754.64 343.31 L754.75 349.99 L754.86 357.44 L754.96 365.81 L755.07 375.30 L755.18 386.18 L755.29 398.84 L755.39 413.88 L755.50 432.30 L755.64 421.85 L755.78 412.66 L755.92 404.50 L756.06 397.20 L756.20 390.61 L756.34 384.64 L756.48 379.21 L756.61 374.27 L756.75 369.74 L756.89 365.61 L757.03 361.82 L757.17 358.35 L757.31 355.19 L757.45 352.29 L757.59 349.66 L757.73 347.27 L757.87 345.11 L758.01 343.16 L758.15 341.43 L758.29 339.90 L758.42 338.57 L758.56 337.42 L758.70 336.46 L758.84 335.68 L758.98 335.07 L759.12 334.64 L759.26 334.39 L759.40 334.30 L759.56 334.41 L759.71 334.73 L759.87 335.26 L760.03 336.02 L760.19 336.99 L760.34 338.19 L760.50 339.63 L760.66 341.30 L760.81 343.23 L760.97 345.42 L761.13 347.88 L761.29 350.63 L761.44 353.69 L761.60 357.09 L761.76 360.84 L761.91 364.98 L762.07 369.55 L762.23 374.60 L762.39 380.18 L762.54 386.37 L762.70 393.26 L762.86 400.97 L763.01 409.66 L763.17 419.54 L763.33 430.92 L763.49 444.24 L763.64 460.21 L763.80 480.00 L763.92 460.73 L764.04 445.11 L764.15 432.03 L764.27 420.84 L764.39 411.11 L764.51 402.54 L764.62 394.92 L764.74 388.11 L764.86 381.99 L764.98 376.46 L765.10 371.46 L765.21 366.93 L765.33 362.83 L765.45 359.11 L765.57 355.74 L765.69 352.71 L765.80 349.98 L765.92 347.53 L766.04 345.36 L766.16 343.45 L766.27 341.79 L766.39 340.36 L766.51 339.17 L766.63 338.20 L766.75 337.46 L766.86 336.92 L766.98 336.61 L767.10 336.50 L767.19 336.57 L767.28 336.80 L767.37 337.17 L767.46 337.69 L767.55 338.37 L767.64 339.20 L767.73 340.18 L767.81 341.33 L767.90 342.65 L767.99 344.13 L768.08 345.79 L768.17 347.64 L768.26 349.67 L768.35 351.91 L768.44 354.35 L768.53 357.02 L768.62 359.93 L768.71 363.09 L768.80 366.52 L768.89 370.24 L768.98 374.29 L769.06 378.68 L769.15 383.47 L769.24 388.68 L769.33 394.39 L769.42 400.65 L769.51 407.55 L769.60 415.20 L769.62 412.83 L769.64 409.65 L769.68 405.86 L769.71 401.66 L769.75 397.27 L769.78 392.89 L769.82 388.73 L769.85 385.00 L769.88 381.58 L769.91 378.23 L769.93 374.96 L769.96 371.77 L769.99 368.68 L770.02 365.68 L770.06 362.78 L770.10 360.00 L770.15 357.49 L770.21 355.32 L770.27 353.34 L770.34 351.41 L770.41 349.40 L770.48 347.15 L770.54 344.53 L770.60 341.40 L770.65 337.62 L770.70 333.26 L770.74 328.51 L770.78 323.54 L770.83 318.52 L770.87 313.65 L770.93 309.08 L771.00 305.00 L771.08 301.32 L771.17 297.85 L771.27 294.56 L771.37 291.48 L771.48 288.58 L771.59 285.87 L771.70 283.34 L771.80 281.00 L771.90 278.88 L771.99 276.99 L772.08 275.30 L772.17 273.80 L772.27 272.45 L772.37 271.21 L772.48 270.07 L772.60 269.00 L772.73 268.03 L772.85 267.20 L772.99 266.50 L773.12 265.90 L773.27 265.39 L773.43 264.95 L773.61 264.56 L773.80 264.20 L774.01 263.88 L774.24 263.61 L774.48 263.40 L774.74 263.26 L775.00 263.19 L775.27 263.18 L775.53 263.25 L775.80 263.40 L776.07 263.62 L776.35 263.90 L776.63 264.26 L776.91 264.69 L777.20 265.19 L777.47 265.78 L777.74 266.44 L778.00 267.20 L778.25 268.08 L778.48 269.10 L778.71 270.22 L778.94 271.41 L779.16 272.64 L779.37 273.87 L779.59 275.07 L779.80 276.20 L780.02 277.32 L780.24 278.50 L780.46 279.68 L780.67 280.85 L780.88 281.96 L781.07 282.98 L781.25 283.87 L781.40 284.60 L781.53 285.15 L781.63 285.56 L781.72 285.84 L781.80 286.03 L781.86 286.15 L781.92 286.23 L781.96 286.31 L782.00 286.40 L782.00 286.40 L782.11 285.87 L782.25 285.13 L782.41 284.25 L782.60 283.29 L782.80 282.30 L783.00 281.35 L783.21 280.50 L783.40 279.80 L783.59 279.20 L783.79 278.63 L783.99 278.09 L784.19 277.63 L784.39 277.24 L784.60 276.96 L784.80 276.81 L785.00 276.80 L785.20 276.93 L785.40 277.16 L785.60 277.50 L785.80 277.96 L786.00 278.54 L786.20 279.23 L786.40 280.05 L786.60 281.00 L786.80 282.13 L787.01 283.45 L787.23 284.93 L787.44 286.51 L787.64 288.16 L787.84 289.82 L788.03 291.45 L788.20 293.00 L788.35 294.33 L788.46 295.43 L788.57 296.43 L788.66 297.47 L788.76 298.71 L788.88 300.28 L789.02 302.33 L789.20 305.00 L789.43 308.50 L789.69 312.80 L789.99 317.65 L790.30 322.79 L790.61 327.98 L790.91 332.98 L791.17 337.53 L791.40 341.40 L791.58 344.53 L791.74 347.15 L791.87 349.40 L791.99 351.41 L792.09 353.34 L792.19 355.32 L792.29 357.49 L792.40 360.00 L792.51 362.90 L792.62 366.07 L792.73 369.42 L792.84 372.82 L792.94 376.19 L793.03 379.42 L793.12 382.39 L793.20 385.00 L793.27 387.32 L793.34 389.48 L793.40 391.46 L793.45 393.26 L793.50 394.87 L793.54 396.26 L793.57 397.45 L793.60 398.40 L793.60 398.40 L793.62 396.99 L793.65 395.13 L793.69 392.92 L793.73 390.45 L793.77 387.83 L793.82 385.14 L793.86 382.50 L793.90 380.00 L793.94 377.57 L793.97 375.08 L794.00 372.56 L794.03 370.01 L794.07 367.47 L794.10 364.94 L794.15 362.44 L794.20 360.00 L794.26 357.73 L794.33 355.67 L794.40 353.70 L794.48 351.73 L794.56 349.62 L794.64 347.27 L794.72 344.57 L794.80 341.40 L794.88 337.62 L794.95 333.26 L795.02 328.51 L795.10 323.54 L795.17 318.52 L795.25 313.65 L795.32 309.08 L795.40 305.00 L795.47 301.37 L795.54 297.99 L795.60 294.83 L795.66 291.85 L795.73 289.02 L795.81 286.29 L795.90 283.63 L796.00 281.00 L796.12 278.40 L796.25 275.87 L796.40 273.42 L796.55 271.06 L796.71 268.83 L796.87 266.73 L797.04 264.78 L797.20 263.00 L797.36 261.40 L797.53 259.97 L797.70 258.70 L797.87 257.56 L798.04 256.53 L798.22 255.61 L798.41 254.77 L798.60 254.00 L798.80 253.30 L799.00 252.68 L799.22 252.16 L799.43 251.73 L799.65 251.41 L799.87 251.19 L800.09 251.09 L800.30 251.10 L800.51 251.25 L800.73 251.55 L800.95 251.96 L801.17 252.48 L801.38 253.08 L801.60 253.75 L801.80 254.46 L802.00 255.20 L802.19 255.97 L802.38 256.79 L802.56 257.67 L802.73 258.61 L802.90 259.60 L803.07 260.67 L803.24 261.80 L803.40 263.00 L803.56 264.30 L803.72 265.70 L803.88 267.19 L804.04 268.74 L804.19 270.32 L804.33 271.90 L804.47 273.47 L804.60 275.00 L804.72 276.46 L804.83 277.86 L804.93 279.24 L805.02 280.62 L805.12 282.06 L805.21 283.58 L805.30 285.21 L805.40 287.00 L805.49 288.84 L805.58 290.65 L805.66 292.50 L805.74 294.47 L805.83 296.64 L805.93 299.07 L806.05 301.83 L806.20 305.00 L806.38 308.79 L806.58 313.22 L806.81 318.08 L807.05 323.16 L807.30 328.25 L807.54 333.12 L807.78 337.58 L808.00 341.40 L808.21 344.50 L808.42 347.03 L808.62 349.18 L808.83 351.10 L809.02 352.97 L809.22 354.97 L809.41 357.25 L809.60 360.00 L809.79 363.05 L809.97 366.17 L810.16 369.43 L810.34 372.89 L810.51 376.61 L810.68 380.66 L810.85 385.10 L811.00 390.00 L811.14 395.58 L811.28 401.87 L811.41 408.66 L811.53 415.73 L811.65 422.85 L811.77 429.82 L811.88 436.41 L812.00 442.40 L812.12 448.07 L812.25 453.72 L812.38 459.24 L812.51 464.47 L812.63 469.30 L812.74 473.59 L812.83 477.20 L812.90 480.00 L812.90 480.00 L812.97 477.20 L813.06 473.59 L813.17 469.30 L813.29 464.48 L813.42 459.24 L813.55 453.72 L813.68 448.07 L813.80 442.40 L813.92 436.41 L814.05 429.82 L814.19 422.85 L814.32 415.72 L814.45 408.66 L814.58 401.87 L814.69 395.58 L814.80 390.00 L814.89 385.10 L814.97 380.66 L815.05 376.61 L815.11 372.89 L815.18 369.43 L815.25 366.17 L815.32 363.05 L815.40 360.00 L815.49 357.25 L815.57 354.97 L815.66 352.97 L815.75 351.10 L815.85 349.18 L815.95 347.03 L816.07 344.50 L816.20 341.40 L816.35 337.62 L816.52 333.26 L816.71 328.51 L816.90 323.54 L817.09 318.52 L817.28 313.65 L817.45 309.08 L817.60 305.00 L817.73 301.34 L817.84 297.90 L817.94 294.67 L818.03 291.62 L818.11 288.75 L818.20 286.03 L818.29 283.46 L818.40 281.00 L818.51 278.72 L818.63 276.64 L818.75 274.74 L818.87 272.97 L819.00 271.31 L819.13 269.72 L819.26 268.16 L819.40 266.60 L819.54 265.03 L819.69 263.49 L819.84 261.99 L819.99 260.56 L820.15 259.20 L820.30 257.94 L820.45 256.80 L820.60 255.80 L820.74 254.90 L820.88 254.08 L821.01 253.36 L821.14 252.74 L821.28 252.25 L821.41 251.91 L821.55 251.72 L821.70 251.70 L821.85 251.88 L822.01 252.26 L822.18 252.81 L822.34 253.49 L822.51 254.28 L822.68 255.15 L822.84 256.07 L823.00 257.00 L823.15 257.99 L823.31 259.10 L823.46 260.29 L823.61 261.53 L823.75 262.81 L823.90 264.10 L824.05 265.37 L824.20 266.60 L824.35 267.84 L824.49 269.14 L824.63 270.45 L824.78 271.76 L824.92 273.02 L825.07 274.21 L825.23 275.28 L825.40 276.20 L825.58 276.98 L825.76 277.65 L825.95 278.23 L826.15 278.71 L826.35 279.12 L826.56 279.47 L826.78 279.76 L827.00 280.00 L827.23 280.15 L827.48 280.17 L827.73 280.10 L827.99 279.99 L828.25 279.86 L828.50 279.76 L828.76 279.73 L829.00 279.80 L829.24 279.94 L829.48 280.10 L829.72 280.30 L829.95 280.54 L830.18 280.83 L830.40 281.20 L830.61 281.65 L830.80 282.20 L830.98 282.81 L831.15 283.47 L831.30 284.18 L831.45 284.97 L831.59 285.87 L831.73 286.90 L831.86 288.07 L832.00 289.40 L832.13 290.81 L832.24 292.22 L832.34 293.72 L832.44 295.37 L832.55 297.26 L832.68 299.44 L832.82 302.00 L833.00 305.00 L833.22 308.68 L833.49 313.05 L833.78 317.91 L834.08 323.01 L834.38 328.14 L834.66 333.06 L834.91 337.56 L835.10 341.40 L835.24 344.50 L835.34 347.03 L835.41 349.18 L835.46 351.10 L835.49 352.97 L835.52 354.97 L835.55 357.25 L835.60 360.00 L835.66 363.05 L835.71 366.17 L835.76 369.43 L835.81 372.89 L835.86 376.61 L835.91 380.66 L835.96 385.10 L836.00 390.00 L836.04 395.58 L836.08 401.87 L836.11 408.66 L836.14 415.73 L836.18 422.85 L836.21 429.82 L836.25 436.41 L836.30 442.40 L836.36 448.07 L836.42 453.72 L836.49 459.24 L836.57 464.47 L836.64 469.30 L836.71 473.59 L836.76 477.20 L836.80 480.00 L836.80 480.00 L836.85 477.20 L836.91 473.59 L836.99 469.30 L837.07 464.48 L837.16 459.24 L837.24 453.72 L837.33 448.07 L837.40 442.40 L837.47 436.41 L837.54 429.82 L837.61 422.85 L837.67 415.72 L837.74 408.66 L837.80 401.87 L837.85 395.58 L837.90 390.00 L837.94 385.10 L837.96 380.66 L837.98 376.61 L838.00 372.89 L838.02 369.43 L838.04 366.17 L838.06 363.05 L838.10 360.00 L838.15 357.25 L838.20 354.97 L838.25 352.97 L838.31 351.10 L838.38 349.18 L838.45 347.03 L838.52 344.50 L838.60 341.40 L838.68 337.62 L838.77 333.26 L838.87 328.51 L838.97 323.54 L839.07 318.52 L839.18 313.65 L839.29 309.08 L839.40 305.00 L839.51 301.34 L839.63 297.90 L839.75 294.67 L839.87 291.62 L840.00 288.75 L840.13 286.03 L840.26 283.46 L840.40 281.00 L840.54 278.70 L840.68 276.58 L840.83 274.63 L840.98 272.82 L841.13 271.14 L841.28 269.55 L841.44 268.05 L841.60 266.60 L841.76 265.23 L841.92 263.95 L842.08 262.77 L842.25 261.68 L842.42 260.68 L842.60 259.77 L842.79 258.95 L843.00 258.20 L843.22 257.53 L843.46 256.95 L843.71 256.45 L843.96 256.04 L844.22 255.72 L844.49 255.49 L844.75 255.35 L845.00 255.30 L845.25 255.36 L845.50 255.54 L845.76 255.83 L846.01 256.19 L846.26 256.63 L846.51 257.12 L846.76 257.65 L847.00 258.20 L847.23 258.82 L847.46 259.55 L847.68 260.35 L847.90 261.19 L848.12 262.03 L848.34 262.84 L848.57 263.57 L848.80 264.20 L849.04 264.74 L849.30 265.25 L849.56 265.70 L849.83 266.11 L850.09 266.47 L850.34 266.77 L850.58 267.02 L850.80 267.20 L851.00 267.30 L851.19 267.30 L851.36 267.23 L851.52 267.11 L851.69 266.96 L851.85 266.81 L852.02 266.69 L852.20 266.60 L852.39 266.53 L852.57 266.43 L852.76 266.33 L852.95 266.24 L853.15 266.18 L853.35 266.16 L853.57 266.19 L853.80 266.30 L854.05 266.46 L854.32 266.66 L854.60 266.90 L854.89 267.18 L855.18 267.53 L855.46 267.94 L855.74 268.43 L856.00 269.00 L856.25 269.65 L856.48 270.37 L856.71 271.16 L856.94 272.02 L857.16 272.95 L857.37 273.96 L857.59 275.04 L857.80 276.20 L858.01 277.44 L858.23 278.75 L858.44 280.14 L858.65 281.60 L858.85 283.14 L859.05 284.75 L859.23 286.44 L859.40 288.20 L859.55 289.94 L859.67 291.60 L859.77 293.29 L859.88 295.07 L859.98 297.05 L860.09 299.31 L860.23 301.93 L860.40 305.00 L860.61 308.73 L860.85 313.14 L861.12 318.00 L861.40 323.09 L861.68 328.19 L861.95 333.09 L862.19 337.57 L862.40 341.40 L862.58 344.50 L862.73 347.03 L862.87 349.18 L862.99 351.10 L863.11 352.97 L863.21 354.97 L863.31 357.25 L863.40 360.00 L863.49 363.05 L863.56 366.17 L863.62 369.43 L863.68 372.89 L863.73 376.61 L863.79 380.66 L863.84 385.10 L863.90 390.00 L863.96 395.58 L864.02 401.87 L864.07 408.66 L864.12 415.73 L864.18 422.85 L864.25 429.82 L864.32 436.41 L864.40 442.40 L864.50 448.07 L864.62 453.72 L864.75 459.24 L864.88 464.47 L865.01 469.30 L865.13 473.59 L865.23 477.20 L865.30 480.00 L865.30 480.00 L865.37 477.20 L865.47 473.59 L865.58 469.30 L865.71 464.48 L865.84 459.24 L865.97 453.72 L866.09 448.07 L866.20 442.40 L866.30 436.41 L866.40 429.82 L866.49 422.85 L866.58 415.72 L866.67 408.66 L866.75 401.87 L866.83 395.58 L866.90 390.00 L866.96 385.10 L867.01 380.66 L867.05 376.61 L867.08 372.89 L867.12 369.43 L867.16 366.17 L867.22 363.05 L867.30 360.00 L867.39 357.09 L867.50 354.43 L867.62 351.96 L867.74 349.66 L867.88 347.49 L868.01 345.42 L868.16 343.40 L868.30 341.40 L868.45 339.44 L868.60 337.56 L868.76 335.76 L868.92 334.04 L869.09 332.40 L869.26 330.85 L869.43 329.38 L869.60 328.00 L869.77 326.70 L869.94 325.48 L870.10 324.35 L870.28 323.30 L870.45 322.34 L870.63 321.47 L870.81 320.69 L871.00 320.00 L871.20 319.41 L871.40 318.92 L871.62 318.51 L871.83 318.20 L872.05 317.97 L872.27 317.83 L872.49 317.78 L872.70 317.80 L872.91 317.90 L873.13 318.08 L873.34 318.35 L873.56 318.70 L873.77 319.14 L873.98 319.67 L874.19 320.29 L874.40 321.00 L874.60 321.83 L874.81 322.79 L875.01 323.84 L875.21 324.99 L875.40 326.19 L875.60 327.45 L875.80 328.72 L876.00 330.00 L876.20 331.23 L876.39 332.40 L876.59 333.56 L876.78 334.79 L876.98 336.13 L877.18 337.64 L877.39 339.37 L877.60 341.40 L877.82 343.69 L878.05 346.17 L878.29 348.86 L878.53 351.72 L878.77 354.78 L879.01 358.01 L879.26 361.42 L879.50 365.00 L879.75 368.91 L880.00 373.24 L880.26 377.84 L880.52 382.57 L880.78 387.29 L881.03 391.86 L881.27 396.15 L881.50 400.00 L881.72 403.56 L881.95 407.03 L882.17 410.34 L882.38 413.44 L882.57 416.26 L882.74 418.75 L882.89 420.85 L883.00 422.50 L883.00 422.50 L883.15 419.62 L883.34 415.82 L883.56 411.29 L883.81 406.25 L884.09 400.89 L884.38 395.43 L884.69 390.06 L885.00 385.00 L885.33 379.98 L885.70 374.71 L886.10 369.30 L886.50 363.91 L886.90 358.65 L887.30 353.65 L887.67 349.06 L888.00 345.00 L888.29 341.50 L888.56 338.45 L888.80 335.76 L889.03 333.36 L889.26 331.16 L889.49 329.09 L889.73 327.06 L890.00 325.00 L890.29 322.93 L890.59 320.95 L890.90 319.06 L891.22 317.27 L891.54 315.58 L891.86 314.01 L892.18 312.57 L892.50 311.25 L892.80 310.14 L893.10 309.25 L893.38 308.52 L893.67 307.89 L893.97 307.29 L894.29 306.65 L894.63 305.91 L895.00 305.00 L895.41 303.91 L895.85 302.69 L896.31 301.39 L896.80 300.05 L897.29 298.70 L897.78 297.38 L898.27 296.13 L898.75 295.00 L899.23 293.94 L899.73 292.90 L900.24 291.90 L900.75 290.95 L901.24 290.07 L901.70 289.28 L902.13 288.58 L902.50 288.00 L902.80 287.53 L903.04 287.15 L903.24 286.86 L903.41 286.66 L903.57 286.54 L903.75 286.52 L903.97 286.59 L904.25 286.75 L904.57 286.94 L904.92 287.14 L905.28 287.39 L905.67 287.75 L906.09 288.27 L906.53 288.99 L907.00 289.97 L907.50 291.25 L908.04 292.89 L908.63 294.86 L909.25 297.09 L909.89 299.53 L910.55 302.10 L911.21 304.75 L911.86 307.40 L912.50 310.00 L913.14 312.66 L913.81 315.48 L914.48 318.41 L915.16 321.36 L915.81 324.27 L916.43 327.06 L916.99 329.66 L917.50 332.00 L917.94 334.10 L918.32 336.05 L918.65 337.84 L918.95 339.50 L919.22 341.03 L919.48 342.45 L919.74 343.77 L920.00 345.00 L920.26 346.12 L920.51 347.10 L920.75 347.96 L920.98 348.71 L921.20 349.38 L921.41 349.97 L921.61 350.51 L921.80 351.00 L921.98 351.44 L922.14 351.79 L922.29 352.08 L922.44 352.30 L922.58 352.46 L922.71 352.56 L922.85 352.60 L923.00 352.60 L923.15 352.55 L923.29 352.44 L923.43 352.27 L923.58 352.05 L923.72 351.77 L923.88 351.44 L924.03 351.05 L924.20 350.60 L924.36 350.22 L924.50 349.97 L924.64 349.73 L924.78 349.39 L924.96 348.86 L925.16 348.02 L925.42 346.77 L925.75 345.00 L926.15 342.64 L926.61 339.78 L927.11 336.51 L927.66 332.93 L928.23 329.14 L928.82 325.24 L929.41 321.33 L930.00 317.50 L930.59 313.63 L931.20 309.55 L931.82 305.35 L932.45 301.09 L933.09 296.86 L933.73 292.71 L934.37 288.74 L935.00 285.00 L935.62 281.46 L936.25 278.02 L936.88 274.69 L937.50 271.48 L938.12 268.40 L938.75 265.46 L939.38 262.66 L940.00 260.00 L940.62 257.49 L941.25 255.10 L941.88 252.85 L942.50 250.73 L943.12 248.76 L943.75 246.94 L944.38 245.27 L945.00 243.75 L945.62 242.37 L946.25 241.11 L946.88 239.98 L947.50 239.02 L948.12 238.22 L948.75 237.60 L949.38 237.19 L950.00 237.00 L950.62 237.00 L951.25 237.17 L951.88 237.53 L952.50 238.08 L953.12 238.84 L953.75 239.82 L954.38 241.03 L955.00 242.50 L955.63 244.27 L956.28 246.36 L956.93 248.72 L957.58 251.28 L958.22 254.00 L958.84 256.81 L959.43 259.66 L960.00 262.50 L960.53 265.33 L961.04 268.22 L961.52 271.18 L961.98 274.22 L962.44 277.36 L962.88 280.61 L963.31 283.98 L963.75 287.50 L964.19 291.25 L964.63 295.27 L965.07 299.47 L965.50 303.75 L965.91 308.03 L966.30 312.23 L966.67 316.25 L967.00 320.00 L967.28 323.32 L967.49 326.20 L967.67 328.85 L967.84 331.44 L968.01 334.16 L968.20 337.20 L968.44 340.75 L968.75 345.00 L969.15 350.15 L969.62 356.10 L970.15 362.60 L970.70 369.41 L971.24 376.25 L971.76 382.89 L972.22 389.05 L972.60 394.50 L972.90 399.43 L973.16 404.18 L973.37 408.67 L973.54 412.84 L973.69 416.63 L973.81 419.96 L973.91 422.78 L974.00 425.00" stroke="#000" stroke-width="1.39" fill="none" stroke-linejoin="round" stroke-linecap="butt"/>
</g>
<path d="M145.5 442.5v2.78M184.5 442.5v2.78M212.5 442.5v2.78M234.5 442.5v2.78M252.5 442.5v2.78M267.5 442.5v2.78M280.5 442.5v2.78M291.5 442.5v2.78M369.5 442.5v2.78M408.5 442.5v2.78M436.5 442.5v2.78M458.5 442.5v2.78M475.5 442.5v2.78M490.5 442.5v2.78M503.5 442.5v2.78M515.5 442.5v2.78M592.5 442.5v2.78M631.5 442.5v2.78M659.5 442.5v2.78M681.5 442.5v2.78M699.5 442.5v2.78M714.5 442.5v2.78M727.5 442.5v2.78M738.5 442.5v2.78M816.5 442.5v2.78M855.5 442.5v2.78M883.5 442.5v2.78M905.5 442.5v2.78M922.5 442.5v2.78M937.5 442.5v2.78M950.5 442.5v2.78M962.5 442.5v2.78M78.5 411.5h-2.78M78.5 393.5h-2.78M78.5 381.5h-2.78M78.5 371.5h-2.78M78.5 363.5h-2.78M78.5 356.5h-2.78M78.5 350.5h-2.78M78.5 345.5h-2.78M78.5 310.5h-2.78M78.5 292.5h-2.78M78.5 280.5h-2.78M78.5 270.5h-2.78M78.5 262.5h-2.78M78.5 255.5h-2.78M78.5 249.5h-2.78M78.5 244.5h-2.78M78.5 209.5h-2.78M78.5 191.5h-2.78M78.5 179.5h-2.78M78.5 169.5h-2.78M78.5 161.5h-2.78M78.5 154.5h-2.78M78.5 148.5h-2.78M78.5 143.5h-2.78M78.5 108.5h-2.78M78.5 90.5h-2.78M78.5 78.5h-2.78M78.5 68.5h-2.78M78.5 60.5h-2.78M78.5 53.5h-2.78M78.5 47.5h-2.78M78.5 42.5h-2.78" stroke="#000" stroke-width="0.83" fill="none"/>
<path d="M78.5 442.5v4.86M301.5 442.5v4.86M525.5 442.5v4.86M748.5 442.5v4.86M972.5 442.5v4.86M78.5 442.5h-4.86M78.5 341.5h-4.86M78.5 240.5h-4.86M78.5 138.5h-4.86M78.5 37.5h-4.86" stroke="#000" stroke-width="1.11" fill="none"/>
<rect x="78.5" y="37.5" width="894.0" height="405.0" fill="none" stroke="#000" stroke-width="1.11"/>
<g font-family="'DejaVu Sans', 'Liberation Sans', sans-serif" fill="#000">
<text x="524.3" y="28.6" font-size="16.67" text-anchor="middle" textLength="470.4" lengthAdjust="spacing" stroke="#000" stroke-width="0.15">Generalised Lomb-Scargle periodogram of ASCC 906449</text>
<text x="524.79" y="482.3" font-size="13.89" text-anchor="middle">Period (days)</text>
<text transform="translate(26.3 242.4) rotate(-90)" font-size="13.89" text-anchor="middle">Power</text>
<text x="77.77" y="461.8" font-size="13.89" text-anchor="middle">0.01</text>
<text x="301.28" y="461.8" font-size="13.89" text-anchor="middle">0.1</text>
<text x="524.79" y="461.8" font-size="13.89" text-anchor="middle">1</text>
<text x="748.30" y="461.8" font-size="13.89" text-anchor="middle">10</text>
<text x="971.81" y="461.8" font-size="13.89" text-anchor="middle">100</text>
<text x="68.3" y="448.02" font-size="13.89" text-anchor="end" stroke="#000" stroke-width="0.2">10<tspan stroke="none" font-size="9.3" dy="-4.8">−4</tspan></text>
<text x="68.3" y="346.93" font-size="13.89" text-anchor="end" stroke="#000" stroke-width="0.2">10<tspan stroke="none" font-size="9.3" dy="-4.8">−3</tspan></text>
<text x="68.3" y="245.83" font-size="13.89" text-anchor="end" stroke="#000" stroke-width="0.2">10<tspan stroke="none" font-size="9.3" dy="-4.8">−2</tspan></text>
<text x="68.3" y="144.73" font-size="13.89" text-anchor="end" stroke="#000" stroke-width="0.2">10<tspan stroke="none" font-size="9.3" dy="-4.8">−1</tspan></text>
<text x="68.3" y="43.63" font-size="13.89" text-anchor="end" stroke="#000" stroke-width="0.2">10<tspan stroke="none" font-size="9.3" dy="-4.8">0</tspan></text>
</g>
</svg>
</body></html>
